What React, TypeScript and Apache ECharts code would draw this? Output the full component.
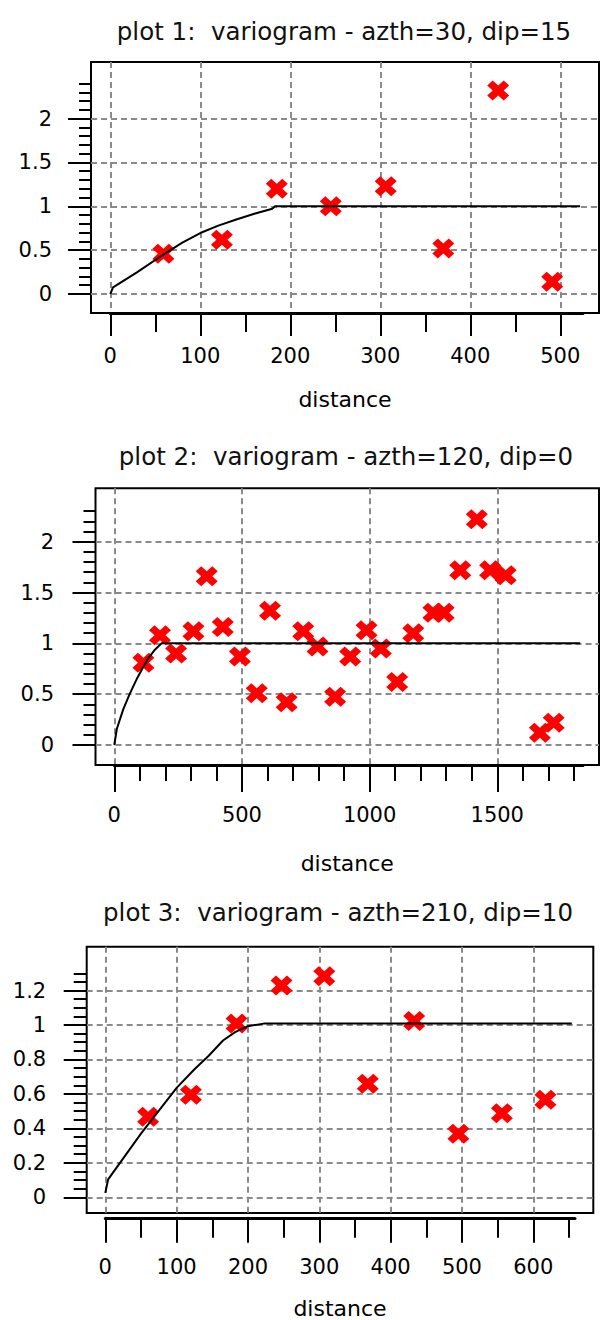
import React, { useEffect, useRef } from "react";
import * as echarts from "echarts";

// ---------- data ----------
const titles = [
  "plot 1:  variogram - azth=30, dip=15",
  "plot 2:  variogram - azth=120, dip=0",
  "plot 3:  variogram - azth=210, dip=10",
];
const xAxisName = "distance";

// experimental variogram points
const plot1Lag = [59, 124, 185, 245, 306, 370, 431, 491];
const plot1Gamma = [0.46, 0.62, 1.2, 1.0, 1.23, 0.52, 2.32, 0.14];
const plot2Lag = [114, 179, 242, 310, 362, 425, 492, 558, 610, 675, 740, 796, 865, 924, 988, 1044, 1108, 1171, 1250, 1290, 1355, 1420, 1472, 1533, 1667, 1721];
const plot2Gamma = [0.81, 1.08, 0.9, 1.12, 1.66, 1.16, 0.87, 0.51, 1.32, 0.42, 1.12, 0.97, 0.475, 0.87, 1.13, 0.95, 0.62, 1.1, 1.3, 1.3, 1.72, 2.22, 1.72, 1.67, 0.12, 0.22];
const plot3Lag = [60, 120, 184, 247, 307, 368, 433, 495, 556, 617];
const plot3Gamma = [0.45, 0.58, 1.0, 1.225, 1.28, 0.645, 1.015, 0.35, 0.47, 0.55];

// model curves
const plot1ModelLag = [0, 3, 30, 59, 80, 100, 120, 140, 160, 180, 183, 522];
const plot1ModelGamma = [0, 0.076, 0.25, 0.45, 0.585, 0.695, 0.78, 0.85, 0.915, 0.972, 1.0, 1.0];
const plot2ModelLag = [0, 10, 35, 60, 90, 114, 135, 160, 185, 1825];
const plot2ModelGamma = [0, 0.16, 0.35, 0.5, 0.66, 0.77, 0.86, 0.94, 1.0, 1.0];
const plot3ModelLag = [0, 4, 50, 100, 125, 145, 165, 182, 200, 222, 654];
const plot3ModelGamma = [0, 0.08, 0.35, 0.62, 0.73, 0.81, 0.9, 0.95, 0.985, 1.0, 1.0];

// tick labels
const plot1XTicks = [0, 100, 200, 300, 400, 500];
const plot1YTicks = [0, 0.5, 1, 1.5, 2];
const plot2XTicks = [0, 500, 1000, 1500];
const plot2YTicks = [0, 0.5, 1, 1.5, 2];
const plot3XTicks = [0, 100, 200, 300, 400, 500, 600];
const plot3YTicks = [0, 0.2, 0.4, 0.6, 0.8, 1, 1.2];
// minor tick step / last minor tick
const plot1XMinor = [50, 500];
const plot1YMinor = [0.1, 2.4];
const plot2XMinor = [100, 1800];
const plot2YMinor = [0.1, 2.3];
const plot3XMinor = [50, 650];
const plot3YMinor = [0.05, 1.3];

// ---------- layout (pixels) ----------
const layouts = [
  { frame: [91, 62, 599, 313], x0: 110.3, sx: 0.9, y0: 294, sy: 87.7, axisEnd: 583,
    xTickLen: [23, 19], yTickLen: [23, 12], xLabelMargin: 32, yLabelMargin: 39, nameGap: 75, titleX: 344, titleY: 31 },
  { frame: [95.5, 488.3, 599, 765], x0: 114.3, sx: 0.2553, y0: 745, sy: 101.65, axisEnd: 583,
    xTickLen: [27, 16], yTickLen: [23, 12], xLabelMargin: 39.5, yLabelMargin: 41.5, nameGap: 87, titleX: 346, titleY: 456 },
  { frame: [86.7, 946.7, 593.3, 1217.8], x0: 105.3, sx: 0.7133, y0: 1197.3, sy: 172.3, axisEnd: 575,
    xTickLen: [25, 20], yTickLen: [23, 13], xLabelMargin: 38.5, yLabelMargin: 40.5, nameGap: 84, titleX: 338, titleY: 912.5 },
];

const plots = [
  { lag: plot1Lag, gamma: plot1Gamma, mLag: plot1ModelLag, mGamma: plot1ModelGamma, xT: plot1XTicks, yT: plot1YTicks, xM: plot1XMinor, yM: plot1YMinor },
  { lag: plot2Lag, gamma: plot2Gamma, mLag: plot2ModelLag, mGamma: plot2ModelGamma, xT: plot2XTicks, yT: plot2YTicks, xM: plot2XMinor, yM: plot2YMinor },
  { lag: plot3Lag, gamma: plot3Gamma, mLag: plot3ModelLag, mGamma: plot3ModelGamma, xT: plot3XTicks, yT: plot3YTicks, xM: plot3XMinor, yM: plot3YMinor },
];

const FONT = '"DejaVu Sans", Verdana, sans-serif';
const X_SYMBOL = "path://M0,5 L5,0 L10,5 L15,0 L20,5 L15,10 L20,15 L15,20 L10,15 L5,20 L0,15 L5,10 Z";
const TICK_STYLE = { color: "#000", width: 2 };
const SPLIT_STYLE = { color: "#8a8a8a", width: 2, type: [6, 4] as any };
const LABEL_STYLE = { color: "#000", fontFamily: FONT, fontSize: 21, formatter: (v: number) => String(v) };

function hiddenAxis(gridIndex: number) {
  return { type: "value", gridIndex, min: 0, max: 1, show: false };
}

function buildOption() {
  const grid: any[] = [];
  const xAxis: any[] = [];
  const yAxis: any[] = [];
  const series: any[] = [];
  const graphic: any[] = [];

  plots.forEach((p, i) => {
    const l = layouts[i];
    const [L, T, R, B] = l.frame;
    const W = R - L;
    const H = B - T;
    const px = (v: number) => l.x0 + l.sx * v;
    const py = (v: number) => l.y0 - l.sy * v;
    const base = grid.length;
    const xMajMax = p.xT[p.xT.length - 1];
    const xMajStep = p.xT[1] - p.xT[0];
    const yMajMax = p.yT[p.yT.length - 1];
    const yMajStep = p.yT[1] - p.yT[0];

    // 0: frame + data
    grid.push({ left: L, top: T, width: W, height: H, show: true, borderColor: "#000", borderWidth: 2, backgroundColor: "transparent" });
    xAxis.push({
      type: "value", gridIndex: base, min: (L - l.x0) / l.sx, max: (R - l.x0) / l.sx,
      axisLine: { show: false, onZero: false }, axisTick: { show: false }, axisLabel: { show: false }, splitLine: { show: false },
      name: xAxisName, nameLocation: "middle", nameGap: l.nameGap,
      nameTextStyle: { color: "#000", fontFamily: FONT, fontSize: 22 },
    });
    yAxis.push({ type: "value", gridIndex: base, min: (l.y0 - B) / l.sy, max: (l.y0 - T) / l.sy, show: false });

    // 1: x major ticks, labels, vertical grid lines
    grid.push({ left: px(0), top: T, width: px(xMajMax) - px(0), height: H });
    xAxis.push({
      type: "value", gridIndex: base + 1, min: 0, max: xMajMax, interval: xMajStep, position: "bottom",
      axisLine: { show: false, onZero: false },
      axisTick: { show: true, length: l.xTickLen[0], lineStyle: TICK_STYLE },
      axisLabel: { ...LABEL_STYLE, margin: l.xLabelMargin },
      splitLine: { show: true, lineStyle: SPLIT_STYLE },
    });
    yAxis.push(hiddenAxis(base + 1));

    // 2: x minor ticks
    grid.push({ left: px(0), top: T, width: px(p.xM[1]) - px(0), height: H });
    xAxis.push({
      type: "value", gridIndex: base + 2, min: 0, max: p.xM[1], interval: p.xM[0], position: "bottom",
      axisLine: { show: false, onZero: false },
      axisTick: { show: true, length: l.xTickLen[1], lineStyle: TICK_STYLE },
      axisLabel: { show: false }, splitLine: { show: false },
    });
    yAxis.push(hiddenAxis(base + 2));

    // 3: x axis line
    grid.push({ left: px(0), top: T, width: l.axisEnd - px(0), height: H });
    xAxis.push({
      type: "value", gridIndex: base + 3, min: 0, max: 1, position: "bottom",
      axisLine: { show: true, onZero: false, lineStyle: { color: "#000", width: 3 } },
      axisTick: { show: false }, axisLabel: { show: false }, splitLine: { show: false },
    });
    yAxis.push(hiddenAxis(base + 3));

    // 4: y major ticks, labels, horizontal grid lines
    grid.push({ left: L, top: py(yMajMax), width: W, height: py(0) - py(yMajMax) });
    xAxis.push(hiddenAxis(base + 4));
    yAxis.push({
      type: "value", gridIndex: base + 4, min: 0, max: yMajMax, interval: yMajStep, position: "left",
      axisLine: { show: false, onZero: false },
      axisTick: { show: true, length: l.yTickLen[0], lineStyle: TICK_STYLE },
      axisLabel: { ...LABEL_STYLE, margin: l.yLabelMargin, align: "right" },
      splitLine: { show: true, lineStyle: SPLIT_STYLE },
    });

    // 5: y minor ticks
    grid.push({ left: L, top: py(p.yM[1]), width: W, height: py(0) - py(p.yM[1]) });
    xAxis.push(hiddenAxis(base + 5));
    yAxis.push({
      type: "value", gridIndex: base + 5, min: 0, max: p.yM[1], interval: p.yM[0], position: "left",
      axisLine: { show: false, onZero: false },
      axisTick: { show: true, length: l.yTickLen[1], lineStyle: TICK_STYLE },
      axisLabel: { show: false }, splitLine: { show: false },
    });

    series.push({
      type: "scatter", xAxisIndex: base, yAxisIndex: base,
      data: p.lag.map((x, k) => [x, p.gamma[k]]),
      symbol: X_SYMBOL, symbolSize: [22, 20],
      itemStyle: { color: "#ff0000", opacity: 1 }, z: 3, silent: true,
    });
    series.push({
      type: "line", xAxisIndex: base, yAxisIndex: base,
      data: p.mLag.map((x, k) => [x, p.mGamma[k]]),
      symbol: "none", showSymbol: false, smooth: false,
      lineStyle: { color: "#000", width: 2 }, z: 4, silent: true,
    });

    graphic.push({
      type: "text", x: l.titleX, y: l.titleY,
      style: {
        text: titles[i], fill: "#111", fontFamily: FONT, fontSize: 24.5,
        textAlign: "center", textVerticalAlign: "middle", align: "center", verticalAlign: "middle",
      },
    });
  });

  return { animation: false, backgroundColor: "#fff", grid, xAxis, yAxis, series, graphic };
}

export default function App() {
  const ref = useRef<HTMLDivElement>(null);
  useEffect(() => {
    if (!ref.current) return;
    const chart = echarts.init(ref.current, null, { renderer: "svg" });
    chart.setOption(buildOption() as any);
    return () => chart.dispose();
  }, []);
  return (
    <div
      ref={ref}
      style={{ position: "absolute", left: 0, top: 0, width: 600, height: 1320, background: "#fff" }}
    />
  );
}
